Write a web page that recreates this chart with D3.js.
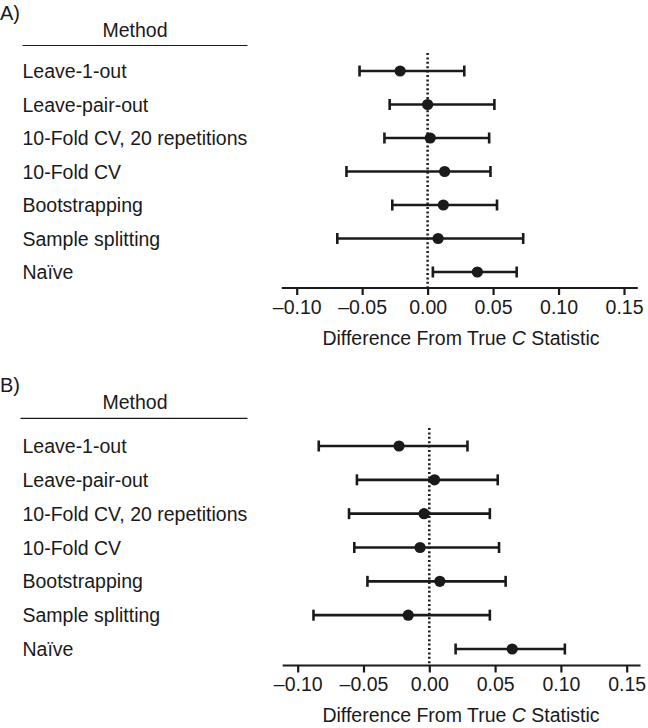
<!DOCTYPE html>
<html>
<head>
<meta charset="utf-8">
<script src="https://cdn.jsdelivr.net/npm/d3@7"></script>
<style>
  html, body { margin: 0; padding: 0; background: #fff; }
  svg { display: block; }
  text { font-family: "Liberation Sans", Arial, Helvetica, sans-serif; fill: #1a1a1a; }
</style>
</head>
<body>
<svg id="chart" width="648" height="728"></svg>
<script>
// ---- data ----
const methods = ["Leave-1-out", "Leave-pair-out", "10-Fold CV, 20 repetitions", "10-Fold CV",
                 "Bootstrapping", "Sample splitting", "Naïve"];
const tickValues = [-0.10, -0.05, 0.00, 0.05, 0.10, 0.15];
const tickLabels = ["–0.10", "–0.05", "0.00", "0.05", "0.10", "0.15"];

const estA = [-0.021, 0.000, 0.002, 0.013, 0.012, 0.008, 0.038];
const lowA = [-0.052, -0.029, -0.033, -0.062, -0.027, -0.069, 0.004];
const highA = [0.028, 0.051, 0.047, 0.048, 0.053, 0.073, 0.068];

const estB = [-0.023, 0.004, -0.004, -0.007, 0.008, -0.016, 0.063];
const lowB = [-0.084, -0.055, -0.061, -0.057, -0.047, -0.088, 0.020];
const highB = [0.029, 0.052, 0.046, 0.053, 0.058, 0.046, 0.103];

const panels = [
  { label: "A)", est: estA, low: lowA, high: highA, top: 0 },
  { label: "B)", est: estB, low: lowB, high: highB, top: 374 }
];

const svg = d3.select("#chart");
const ink = "#1a1a1a";
const fs = 19.5;

panels.forEach((p, pi) => {
  const g = svg.append("g").attr("transform", `translate(0,${p.top})`);
  const x = d3.scaleLinear().domain([-0.10, 0.15]).range(pi === 0 ? [296.7, 624] : [297.7, 626.7]);
  const y = d3.scalePoint().domain(methods).range(pi === 0 ? [71, 272] : [72, 275]);
  const axisY = pi === 0 ? 288 : 291.5;

  // panel label
  g.append("text").attr("x", 0).attr("y", pi === 0 ? 20 : 18).attr("font-size", 20).text(p.label);

  // header
  g.append("text").attr("x", 135).attr("y", pi === 0 ? 37.3 : 35.3).attr("text-anchor", "middle")
    .attr("font-size", fs).text("Method");
  g.append("line").attr("x1", pi === 0 ? 22.5 : 20.5).attr("x2", 247.5)
    .attr("y1", pi === 0 ? 45.5 : 44.3).attr("y2", pi === 0 ? 45.5 : 44.3)
    .attr("stroke", ink).attr("stroke-width", 1.2);

  // row labels
  g.selectAll("text.row").data(methods).join("text").attr("class", "row")
    .attr("x", 22.5).attr("y", d => y(d) + 7).attr("font-size", fs).text(d => d);

  // dotted zero line
  g.append("line").attr("x1", x(0)).attr("x2", x(0))
    .attr("y1", pi === 0 ? 53 : 54).attr("y2", axisY)
    .attr("stroke", ink).attr("stroke-width", 2.5).attr("stroke-dasharray", "2,2.4");

  // x axis
  const axis = d3.axisBottom(x).tickValues(tickValues).tickFormat((d, i) => tickLabels[i])
    .tickSize(7).tickPadding(5).tickSizeOuter(0);
  const ag = g.append("g").attr("transform", `translate(0,${axisY})`).call(axis);
  ag.select(".domain").remove();
  ag.selectAll(".tick line").attr("stroke", ink).attr("stroke-width", 2.2);
  ag.selectAll(".tick text").attr("font-size", fs).attr("fill", ink)
    .attr("font-family", "'Liberation Sans', Arial, sans-serif");
  ag.append("line").attr("x1", x(-0.1114)).attr("x2", x(0.1605)).attr("y1", 0).attr("y2", 0)
    .attr("stroke", ink).attr("stroke-width", 2.2);

  // axis title
  const t = g.append("text").attr("x", 461).attr("y", axisY + 56.5).attr("text-anchor", "middle")
    .attr("font-size", fs);
  t.append("tspan").text("Difference From True ");
  t.append("tspan").attr("font-style", "italic").text("C");
  t.append("tspan").text(" Statistic");

  // error bars
  const rows = methods.map((m, i) => ({ m, est: p.est[i], lo: p.low[i], hi: p.high[i] }));
  const eb = g.selectAll("g.eb").data(rows).join("g").attr("class", "eb");
  const sw = 2.6;
  eb.append("line").attr("x1", d => x(d.lo)).attr("x2", d => x(d.hi))
    .attr("y1", d => y(d.m)).attr("y2", d => y(d.m)).attr("stroke", ink).attr("stroke-width", sw);
  eb.append("line").attr("x1", d => x(d.lo)).attr("x2", d => x(d.lo))
    .attr("y1", d => y(d.m) - 5.5).attr("y2", d => y(d.m) + 5.5).attr("stroke", ink).attr("stroke-width", sw);
  eb.append("line").attr("x1", d => x(d.hi)).attr("x2", d => x(d.hi))
    .attr("y1", d => y(d.m) - 5.5).attr("y2", d => y(d.m) + 5.5).attr("stroke", ink).attr("stroke-width", sw);
  eb.append("circle").attr("cx", d => x(d.est)).attr("cy", d => y(d.m)).attr("r", 5.6).attr("fill", ink);
});
</script>
</body>
</html>
